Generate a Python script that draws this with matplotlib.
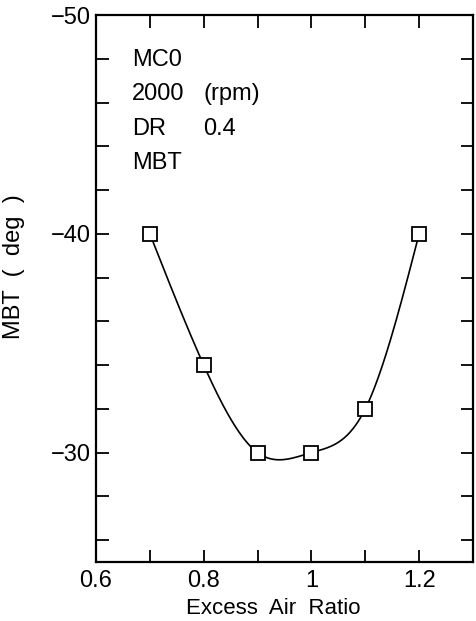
import matplotlib

matplotlib.use("Agg")

import matplotlib.pyplot as plt  # noqa: E402
import numpy as np  # noqa: E402
from matplotlib.ticker import MultipleLocator, FixedLocator  # noqa: E402

# MC0, 2000 rpm, DR 0.4 — MBT vs excess air ratio
air_ratio = [0.7, 0.8, 0.9, 1.0, 1.1, 1.2]
mbt_deg = [-40, -34, -30, -30, -32, -40]

x_ticks = [0.6, 0.8, 1.0, 1.2]
x_tick_labels = ["0.6", "0.8", "1", "1.2"]
y_ticks = [-50, -40, -30]
y_tick_labels = ["\u221250", "\u221240", "\u221230"]
info_left = ["MC0", "2000", "DR", "MBT"]
info_right = ["", "(rpm)", "0.4", ""]


def natural_spline(xs, ys, n=200):
    """자연 3차 스플라인 — 측정점을 잇는 매끈한 곡선."""
    xs = np.asarray(xs, float)
    ys = np.asarray(ys, float)
    k = len(xs)
    h = np.diff(xs)
    a = np.zeros((k, k))
    b = np.zeros(k)
    a[0, 0] = a[-1, -1] = 1.0
    for i in range(1, k - 1):
        a[i, i - 1] = h[i - 1]
        a[i, i] = 2 * (h[i - 1] + h[i])
        a[i, i + 1] = h[i]
        b[i] = 6 * ((ys[i + 1] - ys[i]) / h[i] - (ys[i] - ys[i - 1]) / h[i - 1])
    m = np.linalg.solve(a, b)
    xx = np.linspace(xs[0], xs[-1], n)
    idx = np.clip(np.searchsorted(xs, xx) - 1, 0, k - 2)
    x0, x1 = xs[idx], xs[idx + 1]
    hh = x1 - x0
    t1 = x1 - xx
    t0 = xx - x0
    yy = (m[idx] * t1**3 + m[idx + 1] * t0**3) / (6 * hh) \
        + (ys[idx] / hh - m[idx] * hh / 6) * t1 \
        + (ys[idx + 1] / hh - m[idx + 1] * hh / 6) * t0
    return xx, yy


plt.rcParams["font.family"] = ["Liberation Sans", "DejaVu Sans"]

fig = plt.figure(figsize=(4.76, 6.21), dpi=100)
ax = fig.add_axes([96 / 476, 1 - 562 / 621, (473 - 96) / 476, (562 - 15) / 621])

xx, yy = natural_spline(air_ratio, mbt_deg)
ax.plot(xx, yy, color="black", lw=1.2, zorder=2)
ax.plot(air_ratio, mbt_deg, ls="none", marker="s", ms=10,
        mfc="white", mec="black", mew=1.3, zorder=3)

ax.set_xlim(0.6, 1.3)
ax.set_ylim(-25, -50)

ax.xaxis.set_major_locator(FixedLocator(x_ticks))
ax.set_xticklabels(x_tick_labels)
ax.xaxis.set_minor_locator(MultipleLocator(0.1))
ax.yaxis.set_major_locator(FixedLocator(y_ticks))
ax.set_yticklabels(y_tick_labels)
ax.yaxis.set_minor_locator(MultipleLocator(2))

ax.tick_params(which="both", direction="in", top=True, right=True,
               width=1.3, length=9, labelsize=17)
ax.tick_params(axis="x", pad=6)
ax.tick_params(axis="y", pad=4)
for sp in ax.spines.values():
    sp.set_linewidth(1.6)

ax.set_xlabel("Excess  Air  Ratio", fontsize=16)
ax.xaxis.set_label_coords(0.47, -0.066)
ax.set_ylabel("MBT  (  deg  )", fontsize=17)
ax.yaxis.set_label_coords(-0.188, 0.54)

for i, (left, right) in enumerate(zip(info_left, info_right)):
    y = 0.918 - i * 0.063
    ax.text(0.0955, y, left, transform=ax.transAxes,
            fontsize=17, va="center", ha="left")
    if right:
        ax.text(0.284, y, right, transform=ax.transAxes,
                fontsize=17, va="center", ha="left")

fig.savefig("out.png", dpi=100)
